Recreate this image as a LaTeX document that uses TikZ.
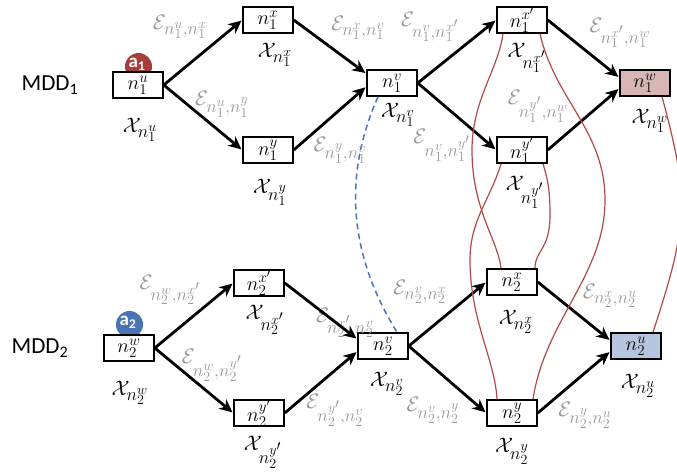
\RequirePackage{fix-cm}
\documentclass[tikz,border=0pt]{standalone}
\usepackage{fontspec}
\newfontfamily\calib{Carlito}
\usetikzlibrary{arrows.meta}
\DeclareMathSizes{21}{21}{18}{14}
\DeclareMathSizes{20}{20}{15}{12}
\definecolor{linkred}{HTML}{B04A4A}
\definecolor{linkblue}{HTML}{4A74BE}
\definecolor{agentred}{HTML}{A63F3C}
\definecolor{agentblue}{HTML}{4A73B4}
\definecolor{fillred}{HTML}{D9B6B6}
\definecolor{fillblue}{HTML}{B6C5E0}
\definecolor{elgray}{HTML}{999999}
\tikzset{
  mddbox/.style={draw, line width=1.5pt, minimum width=50pt, minimum height=26pt, inner sep=0pt, fill=white, font=\fontsize{20}{21}\selectfont},
  xlab/.style={inner sep=0pt, font=\fontsize{21}{22}\selectfont},
  elab/.style={inner sep=0pt, text=elgray, font=\fontsize{21}{22}\selectfont},
  arr/.style={line width=2.8pt, -{Stealth[length=13pt,width=12pt,inset=4pt]}, shorten >=1pt},
  redlink/.style={draw=linkred, line width=1.2pt},
  bluelink/.style={draw=linkblue, line width=1.5pt, dash pattern=on 6pt off 4pt},
  agent/.style={circle, minimum size=27pt, inner sep=0pt},
  mddlab/.style={inner sep=0pt, font=\calib\fontsize{23}{24}\selectfont},
}
\begin{document}
\begin{tikzpicture}[x=1pt,y=-1pt]
\useasboundingbox (0,0) rectangle (677,471);
\clip (0,0) rectangle (677,471);
% agents
\node[agent, fill=agentred] (a1) at (138.5,66.5) {};
\node[agent, fill=agentblue] (a2) at (129.5,324.5) {};
\node[inner sep=0pt, text=white, font=\calib\bfseries\fontsize{19}{20}\selectfont] (a1t) at (137,64) {a\textsubscript{1}};
\node[inner sep=0pt, text=white, font=\calib\bfseries\fontsize{19}{20}\selectfont] (a2t) at (128,322) {a\textsubscript{2}};
% MDD labels
\node[mddlab] (mdd1) at (50,85) {MDD\textsubscript{1}};
\node[mddlab] (mdd2) at (40,348) {MDD\textsubscript{2}};
% MDD1 nodes
\node[mddbox] (n1u) at (138,85) {$n_1^u$};
\node[mddbox] (n1x) at (268,20) {$n_1^x$};
\node[mddbox] (n1y) at (268,150) {$n_1^y$};
\node[mddbox] (n1v) at (392,83) {$n_1^v$};
\node[mddbox] (n1xp) at (522,20) {$n_1^{x'}$};
\node[mddbox] (n1yp) at (522,150) {$n_1^{y'}$};
\node[mddbox, fill=fillred] (n1w) at (645,83) {$n_1^w$};
% MDD2 nodes
\node[mddbox] (n2w) at (129,348) {$n_2^w$};
\node[mddbox] (n2xp) at (259,283) {$n_2^{x'}$};
\node[mddbox] (n2yp) at (259,413) {$n_2^{y'}$};
\node[mddbox] (n2v) at (383,346) {$n_2^v$};
\node[mddbox] (n2x) at (512,282) {$n_2^x$};
\node[mddbox] (n2y) at (512,413) {$n_2^y$};
\node[mddbox, fill=fillblue] (n2u) at (636,346) {$n_2^u$};
% X labels
\node[xlab] (xn1u) at (140,130) {$\mathcal{X}_{n_1^u}$};
\node[xlab] (xn1x) at (275,55) {$\mathcal{X}_{n_1^x}$};
\node[xlab] (xn1y) at (270,192) {$\mathcal{X}_{n_1^y}$};
\node[xlab] (xn1v) at (398,115) {$\mathcal{X}_{n_1^v}$};
\node[xlab] (xn1xp) at (527,58) {$\mathcal{X}_{n_1^{x'}}$};
\node[xlab] (xn1yp) at (525,192) {$\mathcal{X}_{n_1^{y'}}$};
\node[xlab] (xn1w) at (650,121) {$\mathcal{X}_{n_1^w}$};
\node[xlab] (xn2w) at (130,393) {$\mathcal{X}_{n_2^w}$};
\node[xlab] (xn2xp) at (265,320) {$\mathcal{X}_{n_2^{x'}}$};
\node[xlab] (xn2yp) at (263,452) {$\mathcal{X}_{n_2^{y'}}$};
\node[xlab] (xn2v) at (387,384) {$\mathcal{X}_{n_2^v}$};
\node[xlab] (xn2x) at (516,322) {$\mathcal{X}_{n_2^x}$};
\node[xlab] (xn2y) at (512,451) {$\mathcal{X}_{n_2^y}$};
\node[xlab] (xn2u) at (638,386) {$\mathcal{X}_{n_2^u}$};
% E labels
\node[elab] (e1ux) at (180,27) {$\mathcal{E}_{n_1^u,n_1^x}$};
\node[elab] (e1uy) at (222,104) {$\mathcal{E}_{n_1^u,n_1^y}$};
\node[elab] (e1xv) at (358,28) {$\mathcal{E}_{n_1^x,n_1^v}$};
\node[elab] (e1yv) at (340,150) {$\mathcal{E}_{n_1^y,n_1^v}$};
\node[elab] (e1vxp) at (430,27) {$\mathcal{E}_{n_1^v,n_1^{x'}}$};
\node[elab] (e1vyp) at (442,145) {$\mathcal{E}_{n_1^v,n_1^{y'}}$};
\node[elab] (e1xpw) at (620,33) {$\mathcal{E}_{n_1^{x'},n_1^w}$};
\node[elab] (e1ypw) at (538,106) {$\mathcal{E}_{n_1^{y'},n_1^w}$};
\node[elab] (e2wxp) at (170,290) {$\mathcal{E}_{n_2^w,n_2^{x'}}$};
\node[elab] (e2wyp) at (212,365) {$\mathcal{E}_{n_2^w,n_2^{y'}}$};
\node[elab] (e2xpv) at (345,323) {$\mathcal{E}_{n_2^{x'},n_2^v}$};
\node[elab] (e2ypv) at (335,410) {$\mathcal{E}_{n_2^{y'},n_2^v}$};
\node[elab] (e2vx) at (420,292) {$\mathcal{E}_{n_2^v,n_2^x}$};
\node[elab] (e2vy) at (433,410) {$\mathcal{E}_{n_2^v,n_2^y}$};
\node[elab] (e2xu) at (610,296) {$\mathcal{E}_{n_2^x,n_2^u}$};
\node[elab] (e2yu) at (585,415) {$\mathcal{E}_{n_2^y,n_2^u}$};
% arrows MDD1
\draw[arr] (n1u.east) -- (n1x.west);
\draw[arr] (n1u.east) -- (n1y.west);
\draw[arr] (n1x.east) -- (n1v.160);
\draw[arr] (n1y.east) -- (n1v.188);
\draw[arr] (n1v.east) -- (n1xp.west);
\draw[arr] (n1v.east) -- (n1yp.west);
\draw[arr] (n1xp.east) -- (n1w.168);
\draw[arr] (n1yp.east) -- (n1w.192);
% arrows MDD2
\draw[arr] (n2w.east) -- (n2xp.west);
\draw[arr] (n2w.east) -- (n2yp.west);
\draw[arr] (n2xp.east) -- (n2v.165);
\draw[arr] (n2yp.east) -- (n2v.192);
\draw[arr] (n2v.east) -- (n2x.west);
\draw[arr] (n2v.east) -- (n2y.west);
\draw[arr] (n2x.east) -- (n2u.168);
\draw[arr] (n2y.east) -- (n2u.192);
% red links
\draw[redlink] ([xshift=-19pt]n1xp.south) .. controls (498,70) and (472,100) .. (472,150) .. controls (472,210) and (498,240) .. ([xshift=-11pt]n2x.north);
\draw[redlink] ([xshift=18pt]n1xp.south) .. controls (555,100) and (605,130) .. (605,200) .. controls (605,275) and (545,320) .. ([xshift=21pt]n2y.north);
\draw[redlink] ([xshift=-21pt]n1yp.south) .. controls (490,200) and (470,220) .. (470,260) .. controls (470,320) and (495,360) .. ([xshift=-15pt]n2y.north);
\draw[redlink] ([xshift=21pt]n1yp.south) .. controls (548,180) and (550,190) .. (550,215) .. controls (550,250) and (535,250) .. ([xshift=23pt]n2x.north);
\draw[redlink] ([xshift=17pt]n1w.south) .. controls (690,200) and (688,225) .. ([xshift=17pt]n2u.north);
% blue dashed link
\draw[bluelink] ([xshift=-14pt]n1v.south) .. controls (350,160) and (340,240) .. ([xshift=14pt]n2v.north);
\end{tikzpicture}
\end{document}
